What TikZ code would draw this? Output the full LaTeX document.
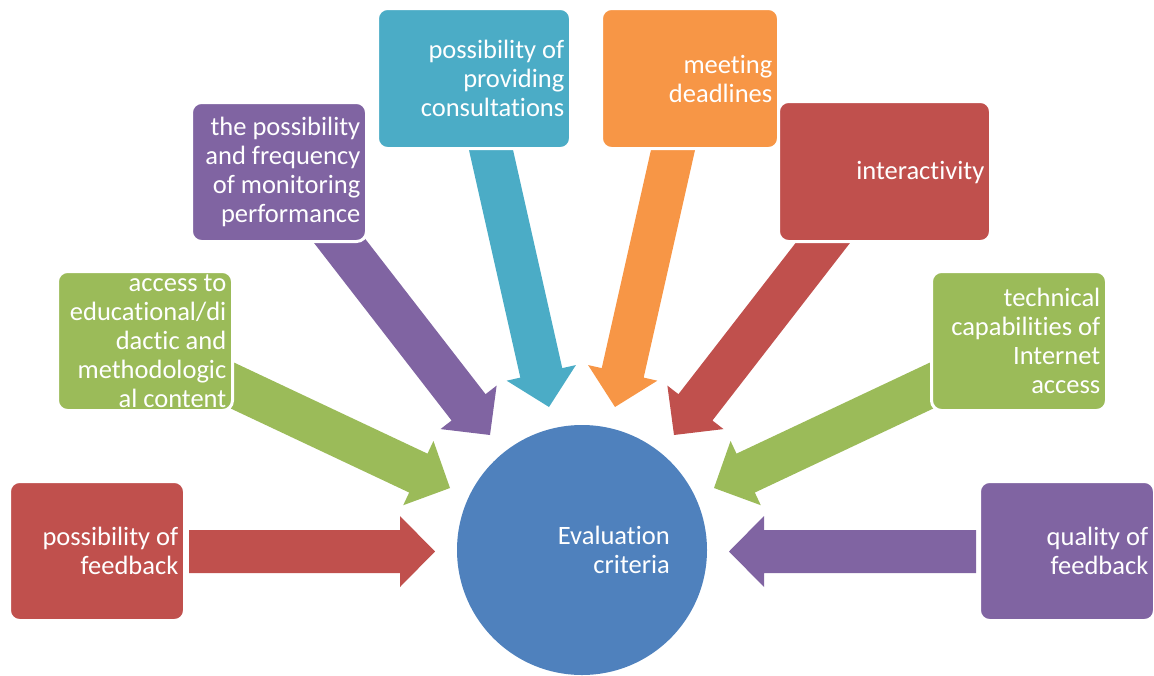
\documentclass[tikz,border=0pt]{standalone}
\usepackage{fontspec}
\setmainfont{Carlito}[Ligatures=NoCommon]
\usetikzlibrary{calc}
\definecolor{cred}{HTML}{C0504D}
\definecolor{cgreen}{HTML}{9BBB59}
\definecolor{cpurple}{HTML}{8064A2}
\definecolor{ccyan}{HTML}{4BACC6}
\definecolor{corange}{HTML}{F79646}
\definecolor{cblue}{HTML}{4F81BD}
\newcommand\blockarr[3]{%
  \coordinate (hb) at ($(#3)!35pt!(#2)$);
  \fill[#1] ($(#2)!21.5pt!90:(#3)$) -- ($(hb)!21.5pt!90:(#3)$) -- ($(hb)!35.5pt!90:(#3)$)
    -- (#3) -- ($(hb)!35.5pt!-90:(#3)$) -- ($(hb)!21.5pt!-90:(#3)$) -- ($(#2)!21.5pt!-90:(#3)$) -- cycle;
}
\tikzset{
  box/.style={draw=white, line width=3pt, rounded corners=10pt, inner sep=0pt},
  lbl/.style={text=white, inner sep=0pt, align=right, anchor=east,
    font=\fontsize{26.5}{29}\selectfont},
}
\begin{document}
\begin{tikzpicture}[x=1pt, y=-1pt]
\useasboundingbox (0,0) rectangle (1154,675);
% arrow end points
\coordinate (t1) at (189,551.5); \coordinate (p1) at (435,551.5);
\coordinate (t2) at (214.7,377.2); \coordinate (p2) at (450,488);
\coordinate (t3) at (324.5,221.4); \coordinate (p3) at (490,435);
\coordinate (t4) at (487.4,134); \coordinate (p4) at (549,407);
\coordinate (t5) at (676.6,134); \coordinate (p5) at (615,407);
\coordinate (t6) at (839.5,221.4); \coordinate (p6) at (674,435);
\coordinate (t7) at (949.3,377.2); \coordinate (p7) at (714,488);
\coordinate (t8) at (976,551.5); \coordinate (p8) at (729,551.5);
\blockarr{cred}{t1}{p1}
\blockarr{cgreen}{t2}{p2}
\blockarr{cpurple}{t3}{p3}
\blockarr{ccyan}{t4}{p4}
\blockarr{corange}{t5}{p5}
\blockarr{cred}{t6}{p6}
\blockarr{cgreen}{t7}{p7}
\blockarr{cpurple}{t8}{p8}
% boxes
\node[box, fill=cred, minimum width=175pt, minimum height=139pt] (b1) at (97,551) {};
\node[box, fill=cgreen, minimum width=175pt, minimum height=139pt] (b2) at (145,341) {};
\node[box, fill=cpurple, minimum width=175pt, minimum height=139pt] (b3) at (279,172) {};
\node[box, fill=ccyan, minimum width=193pt, minimum height=140pt] (b4) at (474,78.5) {};
\node[box, fill=corange, minimum width=177pt, minimum height=140pt] (b5) at (690,78.5) {};
\node[box, fill=cred, minimum width=212pt, minimum height=140pt] (b6) at (884.5,171.5) {};
\node[box, fill=cgreen, minimum width=175pt, minimum height=139pt] (b7) at (1019,341) {};
\node[box, fill=cpurple, minimum width=175pt, minimum height=139pt] (b8) at (1067,551) {};
% labels
\node[lbl, xshift=-7.5pt] (l1) at (b1.east) {possibility of\\feedback};
\node[lbl, xshift=-7.5pt] (l2) at (b2.east) {access to\\educational/di\\dactic and\\methodologic\\al content};
\node[lbl, xshift=-7.5pt] (l3) at (b3.east) {the possibility\\and frequency\\of monitoring\\performance};
\node[lbl, xshift=-7.5pt] (l4) at (b4.east) {possibility of\\providing\\consultations};
\node[lbl, xshift=-7.5pt] (l5) at (b5.east) {meeting\\deadlines};
\node[lbl, xshift=-7.5pt, yshift=-1.5pt] (l6) at (b6.east) {interactivity};
\node[lbl, xshift=-7.5pt] (l7) at (b7.east) {technical\\capabilities of\\Internet\\access};
\node[lbl, xshift=-7.5pt] (l8) at (b8.east) {quality of\\feedback};
% centre
\node[circle, fill=cblue, minimum size=250pt, inner sep=0pt] (ec) at (582,550) {};
\node[lbl] (lc) at (670,550) {Evaluation\\criteria};
\end{tikzpicture}
\end{document}
